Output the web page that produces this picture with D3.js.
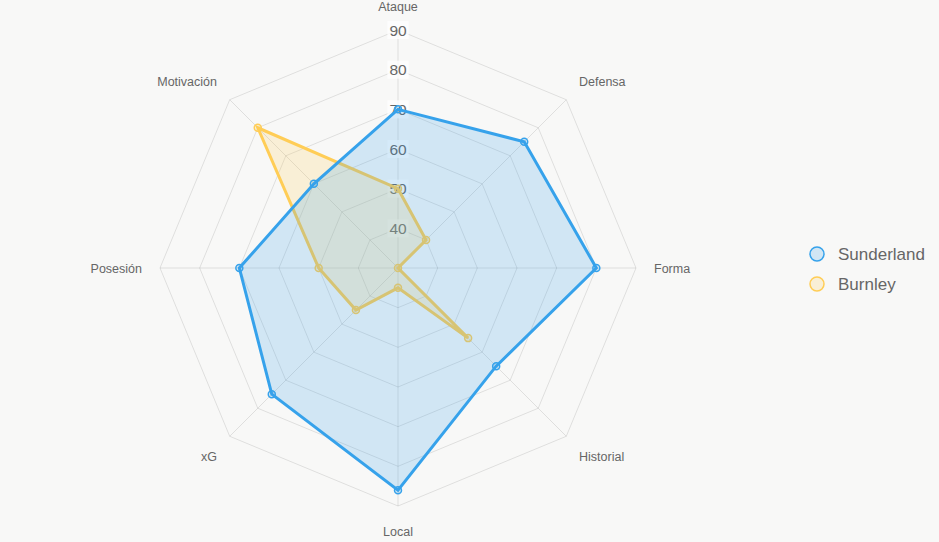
<!DOCTYPE html>
<html>
<head>
<meta charset="utf-8">
<script src="https://cdn.jsdelivr.net/npm/d3@7"></script>
<style>
  html, body { margin: 0; padding: 0; background: #f8f8f7; }
  svg { display: block; font-family: "Liberation Sans", Arial, sans-serif; }
</style>
</head>
<body>
<div id="chart"></div>
<script>
// data
const categories = ['Ataque', 'Defensa', 'Forma', 'Historial', 'Local', 'xG', 'Posesión', 'Motivación'];
const sunderland = [70, 75, 80, 65, 86, 75, 70, 60];
const burnley = [50, 40, 30, 55, 35, 45, 50, 80];
const tickValues = [30, 40, 50, 60, 70, 80, 90];

const series = [
  { name: 'Sunderland', values: sunderland, color: '54,162,235' },
  { name: 'Burnley', values: burnley, color: '255,205,86' }
];

const width = 939, height = 542;
const cx = 398, cy = 268, radius = 238;

const svg = d3.select('#chart').append('svg')
  .attr('width', width)
  .attr('height', height);

const r = d3.scaleLinear().domain([30, 90]).range([0, radius]);
const angle = d3.scaleLinear().domain([0, categories.length]).range([0, 2 * Math.PI]);

const pt = (i, dist) => [
  cx + dist * Math.sin(angle(i)),
  cy - dist * Math.cos(angle(i))
];

const g = svg.append('g');

// grid rings
tickValues.slice(1).forEach(t => {
  g.append('polygon')
    .attr('points', categories.map((c, i) => pt(i, r(t)).join(',')).join(' '))
    .attr('fill', 'none')
    .attr('stroke', 'rgba(0,0,0,0.1)')
    .attr('stroke-width', 1);
});

// angle lines
categories.forEach((c, i) => {
  const [x, y] = pt(i, radius);
  g.append('line')
    .attr('x1', cx).attr('y1', cy)
    .attr('x2', x).attr('y2', y)
    .attr('stroke', 'rgba(0,0,0,0.1)')
    .attr('stroke-width', 1);
});

// point labels
categories.forEach((c, i) => {
  const [x, y] = pt(i, radius + 18);
  const dx = x - cx, dy = y - cy;
  let anchor = Math.abs(dx) < 1 ? 'middle' : (dx > 0 ? 'start' : 'end');
  let ty;
  if (Math.abs(dy) < 1) { ty = y + 4.5; }
  else if (dy < 0) { ty = y - 1; }
  else { ty = y + 12; }
  g.append('text')
    .attr('x', x).attr('y', ty)
    .attr('text-anchor', anchor)
    .attr('fill', '#666')
    .attr('font-size', 12.5)
    .text(c);
});

// tick labels with backdrop
tickValues.slice(1).forEach(t => {
  const y = cy - r(t);
  const lbl = g.append('g');
  const txt = lbl.append('text')
    .attr('x', cx).attr('y', y + 5.5)
    .attr('text-anchor', 'middle')
    .attr('fill', '#666')
    .attr('font-size', 15.5)
    .text(t);
  const w = txt.node().getComputedTextLength();
  lbl.insert('rect', 'text')
    .attr('x', cx - w / 2 - 2)
    .attr('y', y - 9)
    .attr('width', w + 4)
    .attr('height', 18)
    .attr('fill', 'rgba(255,255,255,0.75)');
});

// datasets, first one on top
const line = d3.lineRadial()
  .angle((d, i) => angle(i))
  .radius(d => r(d))
  .curve(d3.curveLinearClosed);

series.slice().reverse().forEach(s => {
  const sg = svg.append('g').attr('transform', `translate(${cx},${cy})`);
  sg.append('path')
    .attr('d', line(s.values))
    .attr('fill', `rgba(${s.color},0.2)`)
    .attr('stroke', `rgb(${s.color})`)
    .attr('stroke-width', 3)
    .attr('stroke-linejoin', 'miter');
  sg.selectAll('circle')
    .data(s.values)
    .enter().append('circle')
    .attr('cx', (d, i) => r(d) * Math.sin(angle(i)))
    .attr('cy', (d, i) => -r(d) * Math.cos(angle(i)))
    .attr('r', 3.5)
    .attr('fill', `rgba(${s.color},0.2)`)
    .attr('stroke', `rgb(${s.color})`)
    .attr('stroke-width', 1.5);
});

// legend
const legend = svg.append('g').attr('transform', 'translate(817,254)');
series.forEach((s, i) => {
  const row = legend.append('g').attr('transform', `translate(0,${i * 30})`);
  row.append('circle')
    .attr('r', 7)
    .attr('fill', `rgba(${s.color},0.2)`)
    .attr('stroke', `rgb(${s.color})`)
    .attr('stroke-width', 1.5);
  row.append('text')
    .attr('x', 21).attr('y', 6)
    .attr('fill', '#666')
    .attr('font-size', 17)
    .text(s.name);
});
</script>
</body>
</html>
